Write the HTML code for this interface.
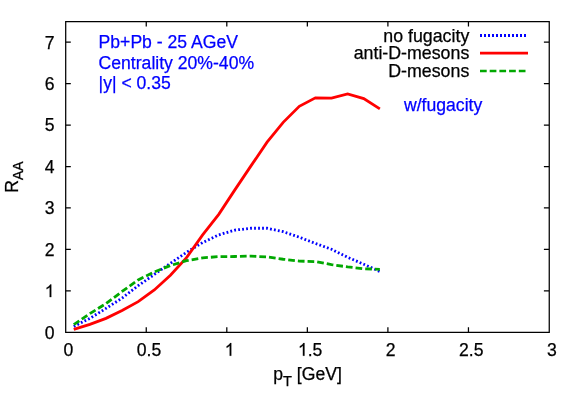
<!DOCTYPE html>
<html><head><meta charset="utf-8"><title>R_AA</title>
<style>html,body{margin:0;padding:0;background:#fff}svg{display:block;will-change:transform;opacity:0.999}text{font-family:"Liberation Sans",sans-serif}</style></head>
<body>
<svg width="581" height="407" viewBox="0 0 581 407" font-size="17.6">
<rect width="581" height="407" fill="#fff"/>
<g stroke="#000" stroke-width="1.25" fill="none">
<path d="M65.7,332.25 V21.5 H549.25 V332.25 Z"/>
<path d="M146.25,332.25 v-5.1 M146.25,21.5 v5.1"/>
<path d="M226.80,332.25 v-5.1 M226.80,21.5 v5.1"/>
<path d="M307.35,332.25 v-5.1 M307.35,21.5 v5.1"/>
<path d="M387.90,332.25 v-5.1 M387.90,21.5 v5.1"/>
<path d="M468.45,332.25 v-5.1 M468.45,21.5 v5.1"/>
<path d="M65.7,290.82 h5.1 M549.0,290.82 h-5.1"/>
<path d="M65.7,249.38 h5.1 M549.0,249.38 h-5.1"/>
<path d="M65.7,207.95 h5.1 M549.0,207.95 h-5.1"/>
<path d="M65.7,166.52 h5.1 M549.0,166.52 h-5.1"/>
<path d="M65.7,125.08 h5.1 M549.0,125.08 h-5.1"/>
<path d="M65.7,83.65 h5.1 M549.0,83.65 h-5.1"/>
<path d="M65.7,42.22 h5.1 M549.0,42.22 h-5.1"/>
</g>
<g fill="#000" stroke="#000" stroke-width="0.25">
<text x="54.5" y="338.55" text-anchor="end">0</text>
<path d="M763 0H583V1147Q518 1085 412.5 1023T223 930V1104Q373 1174.5 485 1275T644 1470H763Z" transform="translate(44.71,297.12) scale(0.00859,-0.00859)" stroke-width="29.1"/>
<text x="54.5" y="255.68" text-anchor="end">2</text>
<text x="54.5" y="214.25" text-anchor="end">3</text>
<text x="54.5" y="172.82" text-anchor="end">4</text>
<text x="54.5" y="131.38" text-anchor="end">5</text>
<text x="54.5" y="89.95" text-anchor="end">6</text>
<text x="54.5" y="48.52" text-anchor="end">7</text>
<text x="68.50" y="355.7" text-anchor="middle">0</text>
<text x="149.05" y="355.7" text-anchor="middle">0.5</text>
<path d="M763 0H583V1147Q518 1085 412.5 1023T223 930V1104Q373 1174.5 485 1275T644 1470H763Z" transform="translate(224.71,355.70) scale(0.00859,-0.00859)" stroke-width="29.1"/>
<path d="M763 0H583V1147Q518 1085 412.5 1023T223 930V1104Q373 1174.5 485 1275T644 1470H763Z" transform="translate(297.92,355.70) scale(0.00859,-0.00859)" stroke-width="29.1"/>
<text x="307.70" y="355.7">.5</text>
<text x="390.70" y="355.7" text-anchor="middle">2</text>
<text x="471.25" y="355.7" text-anchor="middle">2.5</text>
<text x="551.80" y="355.7" text-anchor="middle">3</text>
<text x="307.5" y="380.3" text-anchor="middle">p<tspan font-size="14.6" dy="5.3">T</tspan><tspan dy="-5.3"> [GeV]</tspan></text>
<text transform="translate(18.4,177) rotate(-90)" text-anchor="middle">R<tspan font-size="14" dy="5">AA</tspan></text>
<text x="469.3" y="41.5" text-anchor="end" font-size="17.8">no fugacity</text>
<text x="469.3" y="59.3" text-anchor="end" font-size="17.8">anti-D-mesons</text>
<text x="469.3" y="77.1" text-anchor="end" font-size="17.8">D-mesons</text>
</g>
<g fill="#0000ff" stroke="#0000ff" stroke-width="0.25">
<text x="98.6" y="48.2">Pb+Pb - 25 AGeV</text>
<text x="98.6" y="68.6">Centrality 20%-40%</text>
<text x="98.6" y="89.1">|y| &lt; 0.35</text>
<text x="404" y="110.6">w/fugacity</text>
</g>
<g fill="none" stroke-width="2.8" stroke-linejoin="miter">
<path d="M73.76,326.45 L89.87,318.37 L105.97,308.43 L122.09,298.07 L138.19,285.64 L154.31,274.45 L170.42,263.26 L186.53,252.28 L202.64,242.55 L218.75,234.88 L234.86,230.12 L250.97,228.25 L267.08,228.25 L283.19,231.69 L299.30,237.20 L315.41,243.42 L331.51,249.30 L347.62,257.26 L363.74,264.26 L379.85,271.51" stroke="#0000ff" stroke-dasharray="1.8 2.2"/>
<path d="M73.76,329.43 L89.87,324.38 L105.97,318.37 L122.09,310.50 L138.19,301.67 L154.31,289.91 L170.42,275.20 L186.53,257.67 L202.64,234.88 L218.75,214.37 L234.86,189.89 L250.97,165.90 L267.08,142.15 L283.19,122.35 L299.30,106.27 L315.41,97.86 L331.51,98.11 L347.62,93.88 L363.74,98.57 L379.85,108.92" stroke="#ff0000"/>
<path d="M73.76,324.58 L89.87,313.61 L105.97,303.66 L122.09,291.44 L138.19,279.92 L154.31,271.96 L170.42,265.54 L186.53,260.65 L202.64,257.88 L218.75,256.63 L234.86,256.51 L250.97,256.10 L267.08,256.92 L283.19,259.24 L299.30,261.07 L315.41,261.61 L331.51,264.63 L347.62,266.91 L363.74,268.73 L379.85,269.31" stroke="#00a800" stroke-dasharray="6.7 3"/>
<path d="M480,35.5 H528" stroke="#0000ff" stroke-dasharray="2 2"/>
<path d="M480,53.2 H528" stroke="#ff0000"/>
<path d="M480,70.95 H528" stroke="#00a800" stroke-width="2.55" stroke-dasharray="6.7 3"/>
</g>
</svg>
</body></html>
